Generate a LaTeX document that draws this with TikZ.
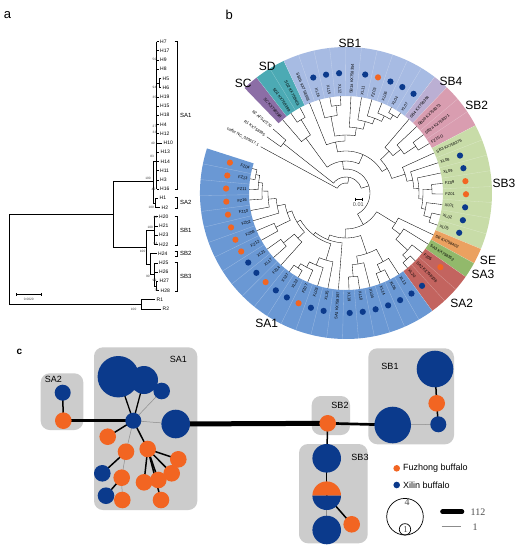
\documentclass[tikz,border=0pt]{standalone}
\usepackage{fontspec}
\setmainfont{Liberation Sans}
\newfontfamily\serifL{Liberation Serif}
\pgfdeclarelayer{bgl}\pgfdeclarelayer{boxes}\pgfdeclarelayer{edges}
\pgfsetlayers{bgl,boxes,edges,main}
\definecolor{fzc}{HTML}{F26522}
\definecolor{xlc}{HTML}{0B3A8C}
\definecolor{cSC}{HTML}{8C6EA6}
\definecolor{cSD}{HTML}{4CAAB4}
\definecolor{cSBa}{HTML}{A7BBE3}
\definecolor{cSBd}{HTML}{BBAFD3}
\definecolor{cSBb}{HTML}{D99DB0}
\definecolor{cSBc}{HTML}{C8DCA8}
\definecolor{cSE}{HTML}{EBA160}
\definecolor{cSAc}{HTML}{92B96B}
\definecolor{cSAb}{HTML}{C3645F}
\definecolor{cSAa}{HTML}{6A98D4}
\definecolor{boxg}{HTML}{CCCCCC}
\newcommand{\bang}[1]{(134-6.26*(#1+0.5))}
\newcommand{\tnode}[5]{\draw[tree] ({\bang{#2}}:#3pt) -- ({\bang{#2}}:#1pt) arc[start angle={\bang{#2}}, end angle={\bang{#4}}, radius=#1pt] -- ({\bang{#4}}:#5pt);}
\tikzset{
  tree/.style={line width=0.35pt, black},
  atree/.style={line width=0.5pt, black},
  leaflab/.style={font=\fontsize{4}{4}\selectfont, inner sep=0.3pt},
  seclab/.style={font=\fontsize{12}{12}\selectfont, inner sep=0pt},
  alab/.style={font=\fontsize{5}{5}\selectfont, inner sep=0pt, anchor=west},
  blab/.style={font=\fontsize{6}{6}\selectfont, inner sep=0pt, anchor=west},
  boot/.style={font=\fontsize{3.2}{3.2}\selectfont, inner sep=0pt, black!75},
  hap/.style={circle, inner sep=0pt, outer sep=0pt},
  fzn/.style={hap, fill=fzc, minimum size=16.6pt},
  xln/.style={hap, fill=xlc},
  grp/.style={fill=boxg, rounded corners=9pt},
  glab/.style={font=\fontsize{9}{9}\selectfont, inner sep=0pt},
  thk/.style={line width=1.5pt, black},
  thn/.style={line width=0.5pt, black!45},
}
\begin{document}
\begin{tikzpicture}[x=1pt,y=-1pt]
\useasboundingbox (0,0) rectangle (520,550);
\begin{pgfonlayer}{bgl}
\fill[white] (0,0) rectangle (520,550);
\end{pgfonlayer}

% ---------------- panel letters
\node[font=\fontsize{13}{13}\selectfont, inner sep=0pt] (pa) at (7.5,15) {a};
\node[font=\fontsize{13}{13}\selectfont, inner sep=0pt] (pb) at (229.3,14.7) {b};
\node[font=\bfseries\fontsize{10}{10}\selectfont, inner sep=0pt] (pc) at (19.3,352.2) {c};

% ---------------- panel a
\draw[atree] (113,214.45) -- (9.3,214.45) -- (9.3,304.27) -- (141.7,304.27);
\draw[atree] (155,299.66) -- (141.7,299.66) -- (141.7,308.88) -- (161,308.88);
\draw[atree] (153,181.7) -- (113,181.7) -- (113,247.2) -- (146,247.2);
\draw[atree] (156.5,161) -- (153,161) -- (153,202.85) -- (155,202.85);
\draw[line width=0.9pt] (156.5,41.5) -- (156.5,189.02);
\foreach \i in {0,1,2,3,6,7,8,9,10,14,15,16}{\draw[atree] (156.5,{41.5+9.22*\i}) -- (158.5,{41.5+9.22*\i});}
\draw[atree] (156.5,83) -- (159,83);
\draw[atree] (161,78.38) -- (159,78.38) -- (159,87.6) -- (161,87.6);
\draw[atree] (156.5,142.92) -- (162,142.92);
\draw[atree] (156.5,152.14) -- (159,152.14);
\draw[atree] (156.5,161.36) -- (159,161.36);
\draw[atree] (158,198.24) -- (155,198.24) -- (155,207.46) -- (160,207.46);
\draw[atree] (154,230.5) -- (146,230.5) -- (146,263.9) -- (150,263.9);
\draw[atree] (154,216.68) -- (154,244.34);
\foreach \i in {19,20,21,22}{\draw[atree] (154,{41.5+9.22*\i}) -- (157.5,{41.5+9.22*\i});}
\draw[atree] (156.5,253.56) -- (150,253.56) -- (150,274.3) -- (154,274.3);
\draw[atree] (157.5,262.78) -- (154,262.78) -- (154,285.83) -- (156,285.83);
\draw[atree] (154,272) -- (157.5,272);
\draw[atree] (158,281.22) -- (156,281.22) -- (156,290.44) -- (159,290.44);
\foreach \i/\lab/\tx in {0/H7/160,1/H17/160,2/H9/160,3/H8/160,4/H5/162.5,5/H6/162.5,6/H19/160,7/H15/160,8/H18/160,9/H4/160,10/H12/160,11/H10/163.5,12/H13/160.5,13/H14/160.5,14/H11/160,15/H3/160,16/H16/160,17/H1/159.5,18/H2/161.5,19/H20/159,20/H21/159,21/H23/159,22/H22/159,23/H24/158,24/H25/159,25/H26/159,26/H27/159.5,27/H28/160.5,28/R1/156.5,29/R2/162.5}{
  \node[alab] (ha\i) at (\tx,{41.5+9.22*\i}) {\lab};}
\foreach \ya/\yb/\lab in {41.5/189/SA1, 197/208.5/SA2, 216/245/SB1, 251.5/256/SB2, 262/291/SB3}{
  \draw[line width=0.8pt] (174.5,\ya) -- (177,\ya) -- (177,\yb) -- (174.5,\yb);
  \node[blab] (br\lab) at (180,{(\ya+\yb)/2}) {\lab};}
\foreach \bx/\by/\bt [count=\n] in {155/59.3/50, 155/87.3/94, 155/97.3/35, 155/126/27, 155/132.7/33, 153.3/143.3/40, 152.7/156/83, 149.3/178.3/100, 154/189/40, 152.7/207.3/100, 156/217.3/28, 151.7/227.3/100, 156/243.3/64, 144/251.7/100, 148.3/276.7/90, 155/280/99, 156.7/290.7/75, 135/309/100}{
  \node[boot, anchor=east] (bs\n) at (\bx+1.5,\by) {\bt};}
\coordinate (sca) at (16,294.3); \coordinate (scb) at (41.7,294.3);
\draw[line width=0.7pt] (sca) -- (scb);
\draw[line width=0.5pt] (16,292.8) -- (16,295.8) (41.7,292.8) -- (41.7,295.8);
\node[boot] (sct) at (28.8,299.5) {0.0020};

% ---------------- panel b
\begin{scope}[shift={(346,193)}]
  \foreach \pa/\pb/\col in {-0.5/0.5/cSC, 0.5/2.5/cSD, 2.5/12.5/cSBa, 12.5/13.5/cSBd, 13.5/16.5/cSBb, 16.5/24.5/cSBc, 24.5/25.5/cSE, 25.5/26.5/cSAc, 26.5/29.5/cSAb, 29.5/52.5/cSAa}{
    \pgfmathsetmacro\aa{134-6.26*(\pa+0.5)}
    \pgfmathsetmacro\ab{134-6.26*(\pb+0.5)}
    \fill[\col] (\aa:97pt) arc[start angle=\aa, end angle=\ab, radius=97pt] -- (\ab:146pt) arc[start angle=\ab, end angle=\aa, radius=146pt] -- cycle;}
  \foreach \k in {0,...,51}{
    \pgfmathsetmacro\as{134-6.26*(\k+1)}
    \draw[white, opacity=0.35, line width=0.3pt] (\as:97pt) -- (\as:146pt);}
  % tree
  \tnode{80}{-2.2}{97}{-1.25}{97}
  \tnode{10}{-3.3}{97}{8.2}{16}
  \tnode{16}{-1.725}{80}{18.12}{24}
  \tnode{24}{5.54}{32}{30.7}{36}
  \tnode{32}{0.75}{68}{10.33}{42}
  \tnode{68}{0}{97}{1.5}{86}
  \tnode{86}{1}{97}{2}{97}
  \tnode{42}{4.68}{52}{15.98}{48}
  \tnode{52}{3}{97}{6.36}{58}
  \tnode{58}{4.75}{78}{7.97}{66}
  \tnode{78}{4}{97}{5.5}{88}
  \tnode{88}{5}{97}{6}{97}
  \tnode{66}{7}{97}{8.94}{74}
  \tnode{74}{8}{97}{9.875}{80}
  \tnode{80}{9}{97}{10.75}{86}
  \tnode{86}{10}{97}{11.5}{91}
  \tnode{91}{11}{97}{12}{97}
  \tnode{48}{13.875}{60}{18.08}{62}
  \tnode{60}{13}{97}{14.75}{70}
  \tnode{70}{14}{97}{15.5}{84}
  \tnode{84}{15}{97}{16}{97}
  \tnode{62}{17}{97}{19.16}{68}
  \tnode{68}{18}{97}{20.31}{73}
  \tnode{73}{19}{97}{21.625}{77}
  \tnode{77}{20.5}{86}{22.75}{81}
  \tnode{86}{20}{97}{21}{97}
  \tnode{81}{22}{97}{23.5}{88}
  \tnode{88}{23}{97}{24}{97}
  \tnode{36}{25.94}{58}{35.46}{45}
  \tnode{58}{25}{97}{26.875}{68}
  \tnode{68}{26}{97}{27.75}{84}
  \tnode{84}{27}{97}{28.5}{90}
  \tnode{90}{28}{97}{29}{97}
  \tnode{45}{32.25}{64}{38.67}{50}
  \tnode{64}{30.75}{78}{33.75}{72}
  \tnode{78}{30}{97}{31.5}{86}
  \tnode{86}{31}{97}{32}{97}
  \tnode{72}{33}{97}{34.5}{84}
  \tnode{84}{34}{97}{35}{97}
  \tnode{50}{36}{97}{41.34}{53}
  \tnode{53}{37.94}{70}{44.74}{57}
  \tnode{70}{37}{97}{38.875}{78}
  \tnode{78}{38}{97}{39.75}{84}
  \tnode{84}{39}{97}{40.5}{89}
  \tnode{89}{40}{97}{41}{97}
  \tnode{57}{42.75}{66}{46.73}{62}
  \tnode{66}{42}{97}{43.5}{80}
  \tnode{80}{43}{97}{44}{97}
  \tnode{62}{45.5}{78}{47.97}{70}
  \tnode{78}{45}{97}{46}{97}
  \tnode{70}{47}{97}{48.94}{78}
  \tnode{78}{48}{97}{49.875}{84}
  \tnode{84}{49}{97}{50.75}{88}
  \tnode{88}{50}{97}{51.5}{92}
  \tnode{92}{51}{97}{52}{97}
  % leaves
  \foreach \i/\lab/\d in {0/SC KX758398/0, 1/SD1 KX758399/0, 2/SD2 KX758401/0, 3/SB1b KX758368/0, 4/XL16/2, 5/XL15/2, 6/XL12/2, 7/SB1a KX758354/0, 8/XL11/2, 9/FZ03/1, 10/XL06/2, 11/XL04/2, 12/XL07/2, 13/SB4 KX758394/0, 14/SB2b KX758373/0, 15/SB2a KX758371/0, 16/FZ15 G/0, 17/SB3 KX758376/0, 18/XL08/2, 19/XL09/2, 20/FZ09/1, 21/FZ01/1, 22/XL01/2, 23/XL02/2, 24/XL05/2, 25/SE KX758402/0, 26/SA3 KX758352/0, 27/FZ05/1, 28/SA2 KX758336/0, 29/XL20/2, 30/XL13/2, 31/XL06/2, 32/XL14/2, 33/XL04/2, 34/XL10/2, 35/XL19/2, 36/SA1 KX758397/0, 37/XL35/2, 38/XL03/2, 39/FZ07/1, 40/XL32/2, 41/XL37/2, 42/FZ14/1, 43/XL17/2, 44/XL21/2, 45/FZ12/1, 46/FZ08/1, 47/FZ02/1, 48/FZ10/1, 49/FZ16/1, 50/FZ11/1, 51/FZ13/1, 52/FZ04/1}{
    \pgfmathsetmacro\ang{134-6.26*(\i+0.5)}
    \pgfmathtruncatemacro\flp{abs(\ang)>90}
    \pgfmathsetmacro\angf{\ang+180}
    \ifnum\flp=1
      \node[leaflab, anchor=east, rotate=\angf] (L\i) at (\ang:99pt) {\lab};
    \else
      \node[leaflab, anchor=west, rotate=\ang] (L\i) at (\ang:99pt) {\lab};
    \fi
    \ifcase\d\or
      \fill[fzc] (\ang:120pt) circle[radius=3.1pt];
    \or
      \fill[xlc] (\ang:120pt) circle[radius=3.1pt];
    \fi}
  \foreach \p/\lab [count=\n] in {-1.25/R2 AF547270, -2.2/R1 KX758395, -3.3/caffer NC\_020617.1}{
    \pgfmathsetmacro\ang{134-6.26*(\p+0.5)}
    \pgfmathsetmacro\angf{\ang+180}
    \node[leaflab, anchor=east, rotate=\angf] (og\n) at (\ang:99pt) {\lab};}
\end{scope}
\coordinate (sba) at (355,199); \coordinate (sbb) at (361.7,199);
\draw[line width=0.6pt] (sba) -- (sbb);
\draw[line width=0.4pt] (355,197.5) -- (355,200.5) (361.7,197.5) -- (361.7,200.5);
\node[font=\fontsize{5.5}{5.5}\selectfont, inner sep=0pt, black!70] (sbt) at (358.3,204.5) {0.01};
\foreach \x/\y/\lab in {350/43.3/SB1, 243.3/83.3/SC, 267.3/66/SD, 451/81.7/SB4, 476.7/105/SB2, 504/183.5/SB3, 488/260.3/SE, 483/274.5/SA3, 461.7/303.3/SA2, 266.7/323.3/SA1}{
  \node[seclab] (sec\lab) at (\x,\y) {\lab};}

% ---------------- panel c
\begin{pgfonlayer}{boxes}
  \fill[grp] (40.7,373.3) rectangle (83.3,430);
  \fill[grp] (94,347.3) rectangle (197.3,510);
  \fill[grp] (311.7,396) rectangle (350,435);
  \fill[grp] (368.3,348.3) rectangle (454,444.3);
  \fill[grp] (299,444) rectangle (367.7,543.3);
\end{pgfonlayer}
\node[glab] (gSA2) at (53.3,379.3) {SA2};
\node[glab] (gSA1) at (178.3,359) {SA1};
\node[glab] (gSB2) at (340,405) {SB2};
\node[glab] (gSB1) at (390,366) {SB1};
\node[glab] (gSB3) at (360,457.7) {SB3};
% haplotypes
\node[xln, minimum size=16pt] (sa2b) at (62.7,392.7) {};
\node[fzn] (sa2o) at (63.3,420.7) {};
\node[xln, minimum size=41.4pt] (a1) at (118.3,376.7) {};
\node[xln, minimum size=28pt] (a2) at (144,380) {};
\node[xln, minimum size=16.6pt] (a3) at (161.7,391) {};
\node[xln, minimum size=16pt] (hub) at (133.3,420.7) {};
\node[xln, minimum size=28.6pt] (a5) at (175.7,424) {};
\node[fzn] (o1) at (107.7,436.7) {};
\node[fzn] (o2) at (126,451.7) {};
\node[fzn] (o3) at (147.7,449) {};
\node[fzn] (o4) at (178.3,459.3) {};
\node[fzn] (o5) at (171.7,473.3) {};
\node[xln, minimum size=16.6pt] (b6) at (102.3,473.3) {};
\node[fzn] (o6) at (121.7,477.7) {};
\node[fzn] (o7) at (144,482.3) {};
\node[fzn] (o8) at (158.3,480) {};
\node[xln, minimum size=16.6pt] (b7) at (106,495.7) {};
\node[fzn] (o9) at (122.3,500) {};
\node[fzn] (o10) at (161,500) {};
\node[fzn] (sb2) at (327.7,423.3) {};
\node[xln, minimum size=36.6pt] (s1) at (392.7,425) {};
\node[xln, minimum size=16pt] (s2) at (438.3,424.3) {};
\node[fzn] (s3) at (436.7,403.3) {};
\node[xln, minimum size=36.6pt] (s4) at (435,369) {};
\node[xln, minimum size=28.6pt] (t1) at (326.7,458.3) {};
\node[hap, minimum size=28.6pt] (t2) at (326.7,495.7) {};
\fill[fzc] (t2.east) arc[start angle=0, end angle=180, radius=14.3pt] -- cycle;
\fill[xlc] (t2.west) arc[start angle=180, end angle=360, radius=14.3pt] -- cycle;
\node[xln, minimum size=28.6pt] (t3) at (326.7,530) {};
\node[fzn] (t4) at (351.7,524.3) {};
\begin{pgfonlayer}{edges}
  \draw[thk] (sa2b.center) -- (sa2o.center);
  \draw[black, line width=2.7pt] (sa2o.center) -- (hub.center);
  \draw[black, line width=1.3pt] (hub.center) -- (a1.center);
  \draw[black, line width=1.3pt] (hub.center) -- (a2.center);
  \draw[thn] (hub.center) -- (a3.center);
  \draw[thn] (hub.center) -- (a5.center);
  \draw[black, line width=5pt] (a5.center) -- (sb2.center);
  \draw[thk] (hub.center) -- (o1.center);
  \draw[thn] (hub.center) -- (o2.center);
  \draw[thk] (hub.center) -- (o3.center);
  \draw[thk] (o2.center) -- (b6.center);
  \draw[thn] (o2.center) -- (o6.center);
  \draw[thk] (o6.center) -- (b7.center);
  \draw[thn] (o6.center) -- (o9.center);
  \foreach \t in {o4,o5,o7,o8,o10}{\draw[thk] (o3.center) -- (\t.center);}
  \draw[black, line width=2.7pt] (sb2.center) -- (s1.center);
  \draw[thn] (s1.center) -- (s2.center);
  \draw[thk] (s2.center) -- (s3.center);
  \draw[thk] (s3.center) -- (s4.center);
  \draw[thk] (sb2.center) -- (t1.center);
  \draw[thk] (t1.center) -- (t2.center);
  \draw[thn] (t2.center) -- (t3.center);
  \draw[thk] (t2.center) -- (t4.center);
\end{pgfonlayer}
% legend
\node[hap, fill=fzc, minimum size=6.6pt] (lgo) at (396.7,468.3) {};
\node[hap, fill=xlc, minimum size=6.6pt] (lgb) at (396.7,485) {};
\node[glab, anchor=west] (lgot) at (403,468.3) {Fuzhong buffalo};
\node[glab, anchor=west] (lgbt) at (403,485) {Xilin buffalo};
\node[hap, draw=black, line width=0.7pt, minimum size=36.6pt] (lbig) at (405,516.7) {};
\node[hap, draw=black, line width=0.7pt, minimum size=11.4pt] (lsml) at (405,529.3) {};
\node[font=\serifL\fontsize{10}{10}\selectfont, inner sep=0pt, black!70] (l4) at (407,502) {4};
\node[font=\serifL\fontsize{9}{9}\selectfont, inner sep=0pt, black!70] (l1a) at (405.5,530) {1};
\coordinate (lt1) at (442.5,511.7); \coordinate (lt2) at (462,511.7);
\coordinate (ln1) at (441.7,526.7); \coordinate (ln2) at (461,526.7);
\draw[black, line width=4.6pt, line cap=round] (lt1) -- (lt2);
\draw[thn] (ln1) -- (ln2);
\node[font=\serifL\fontsize{10}{10}\selectfont, inner sep=0pt, anchor=west, black!70] (l112) at (470.5,511.7) {112};
\node[font=\serifL\fontsize{10}{10}\selectfont, inner sep=0pt, anchor=west, black!70] (l1b) at (472.5,526.7) {1};
\end{tikzpicture}
\end{document}
